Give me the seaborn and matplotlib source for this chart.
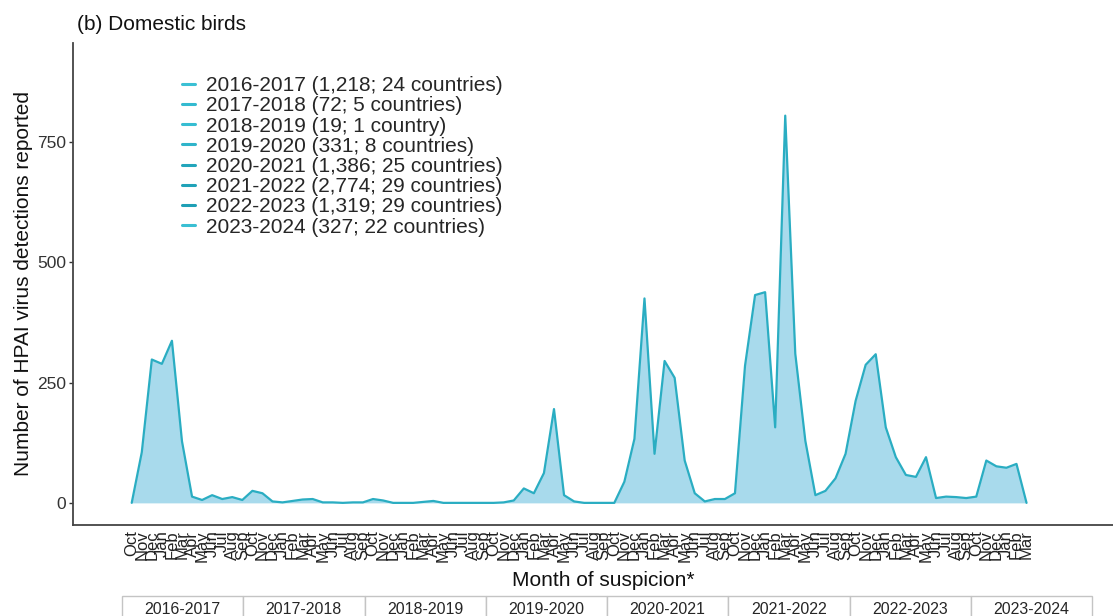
import numpy as np
import pandas as pd
import matplotlib
matplotlib.use("Agg")
import matplotlib.pyplot as plt
from matplotlib.lines import Line2D
import seaborn as sns

sns.set_theme(style="white")
plt.rcParams['font.family'] = ['Liberation Sans', 'DejaVu Sans']

# data
seasons = ["2016-2017", "2017-2018", "2018-2019", "2019-2020",
           "2020-2021", "2021-2022", "2022-2023", "2023-2024"]
season_notes = ["1,218; 24 countries", "72; 5 countries", "19; 1 country",
                "331; 8 countries", "1,386; 25 countries", "2,774; 29 countries",
                "1,319; 29 countries", "327; 22 countries"]
months = ["Oct", "Nov", "Dec", "Jan", "Feb", "Mar",
          "Apr", "May", "Jun", "Jul", "Aug", "Sep"]

counts_2016_2017 = [0, 105, 298, 289, 337, 128, 13, 6, 16, 8, 12, 6]
counts_2017_2018 = [25, 20, 3, 1, 4, 7, 8, 1, 1, 0, 1, 1]
counts_2018_2019 = [8, 5, 0, 0, 0, 2, 4, 0, 0, 0, 0, 0]
counts_2019_2020 = [0, 1, 5, 30, 20, 62, 195, 16, 3, 0, 0, 0]
counts_2020_2021 = [0, 44, 133, 425, 102, 295, 260, 88, 20, 3, 8, 8]
counts_2021_2022 = [20, 285, 432, 438, 157, 805, 310, 129, 16, 25, 51, 102]
counts_2022_2023 = [212, 287, 309, 157, 95, 58, 54, 95, 10, 13, 12, 10]
counts_2023_2024 = [13, 88, 76, 73, 81, 0]

all_counts = [counts_2016_2017, counts_2017_2018, counts_2018_2019, counts_2019_2020,
              counts_2020_2021, counts_2021_2022, counts_2022_2023, counts_2023_2024]

rows = []
for s, vals in zip(seasons, all_counts):
    for m, v in zip(months, vals):
        rows.append({'season': s, 'month': m, 'count': v})
df = pd.DataFrame(rows)
df['idx'] = np.arange(len(df))

line_color = '#2AADC2'
fill_color = '#A8DAEC'
legend_colors = ['#3BC0D4', '#33BAD0', '#36BDD2', '#2FB4CA',
                 '#22A5BB', '#20A2B8', '#1E9FB5', '#3ABFD3']

fig = plt.figure(figsize=(11.13, 6.16), dpi=100)
ax = fig.add_axes([73/1113, (616-525)/616, 1 - 73/1113, (525-43)/616])

ax.fill_between(df['idx'], df['count'], 0, color=fill_color, lw=0)
sns.lineplot(data=df, x='idx', y='count', color=line_color, lw=1.6, ax=ax)

ax.set_xlim(-5.84, 97.6)
ax.set_ylim(-46, 956)
ax.set_yticks([0, 250, 500, 750])
ax.set_yticklabels(['0', '250', '500', '750'])
ax.set_xticks(df['idx'])
ax.set_xticklabels(df['month'], rotation=90)

ax.tick_params(axis='y', labelsize=12.5, length=3, width=1, colors='#333333', pad=2,
               left=True)
ax.tick_params(axis='x', labelsize=12, length=0, colors='#222222', pad=4)
for sp in ['top', 'right']:
    ax.spines[sp].set_visible(False)
for sp in ['left', 'bottom']:
    ax.spines[sp].set_color('#444444')
    ax.spines[sp].set_linewidth(1.3)

ax.set_xlabel('Month of suspicion*', fontsize=15, color='#111111')
ax.xaxis.set_label_coords(0.51, -0.095)
ax.set_ylabel('Number of HPAI virus detections reported', fontsize=15, color='#111111')
ax.yaxis.set_label_coords(-0.038, 0.5)

handles = [Line2D([], [], color=c, lw=2.2) for c in legend_colors]
labels = [f"{s} ({n})" for s, n in zip(seasons, season_notes)]
fig.legend(handles, labels, loc='upper left', bbox_to_anchor=(182/1113, 1 - 76/616),
           bbox_transform=fig.transFigure, frameon=False, fontsize=15,
           handlelength=0.6, handletextpad=0.55, labelspacing=0.06,
           borderpad=0, borderaxespad=0)

fig.text(77/1113, 1 - 25/616, '(b) Domestic birds', fontsize=15, va='center',
         color='#111111')

# season table under the axis
tab_ax = fig.add_axes([122/1113, -6/616, (1092-122)/1113, 26/616])
tab_ax.axis('off')
tbl = tab_ax.table(cellText=[seasons], bbox=[0, 0, 1, 1], cellLoc='center')
tbl.auto_set_font_size(False)
tbl.set_fontsize(11.5)
for cell in tbl.get_celld().values():
    cell.set_edgecolor('#C4C4C4')
    cell.set_linewidth(1)

fig.savefig('out.png', dpi=100)
